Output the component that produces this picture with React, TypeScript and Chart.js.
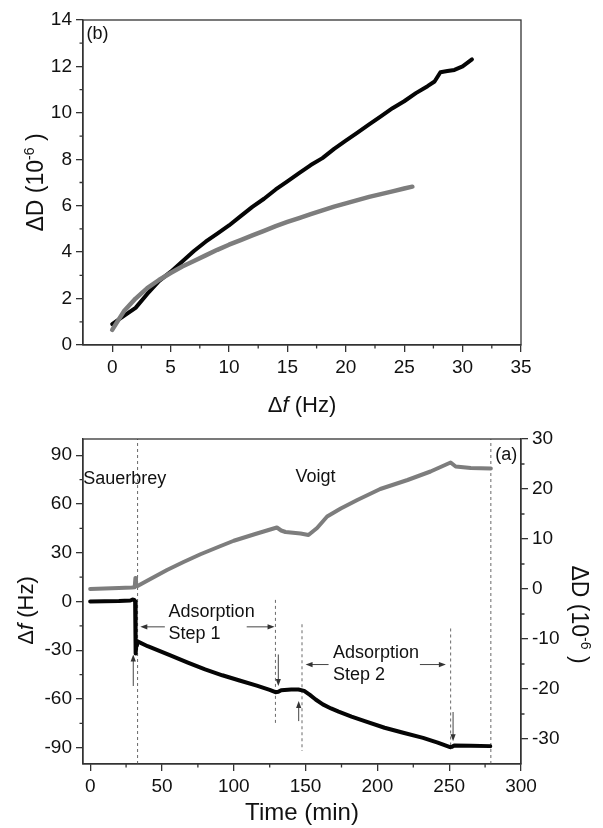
import React, { useEffect, useRef } from "react";
import { Chart, registerables } from "chart.js";

Chart.register(...registerables);

const FONT = '"Liberation Sans", Arial, Helvetica, sans-serif';
const INK = "#111111";
const AXIS = "#333333";
const GRAY = "#7d7d7d";
const BLACK = "#050505";

// ---------------- panel (b): ΔD vs Δf ----------------
const bXTicks = [0, 5, 10, 15, 20, 25, 30, 35];
const bYTicks = [0, 2, 4, 6, 8, 10, 12, 14];

const bBlackDf = [0, 1, 2, 3, 4, 5, 6, 7, 8, 9, 10, 11, 12, 13, 14, 15, 16, 17, 18, 19, 20, 21, 22, 23, 24, 25, 26, 27, 27.6, 28.1, 28.7, 29.3, 30, 30.8];
const bBlackDD = [0.9, 1.25, 1.6, 2.2, 2.75, 3.15, 3.6, 4.05, 4.45, 4.8, 5.15, 5.55, 5.95, 6.3, 6.7, 7.05, 7.4, 7.75, 8.05, 8.45, 8.8, 9.15, 9.5, 9.85, 10.2, 10.5, 10.85, 11.15, 11.35, 11.75, 11.8, 11.85, 12.0, 12.3];

const bGrayDf = [0, 0.5, 1, 2, 3, 4, 5, 6, 7, 8, 9, 10, 11, 12, 13, 14, 15, 16, 17, 18, 19, 20, 21, 22, 23, 24, 25, 25.7];
const bGrayDD = [0.65, 1.05, 1.45, 2.0, 2.45, 2.8, 3.1, 3.38, 3.62, 3.86, 4.1, 4.32, 4.52, 4.72, 4.92, 5.12, 5.3, 5.47, 5.64, 5.8, 5.96, 6.1, 6.24, 6.38, 6.5, 6.62, 6.74, 6.82];

const bPanelLabel = "(b)";
const bPanelLabelF = -2.2;
const bPanelLabelD = 13.17;

// ---------------- panel (a): Δf and ΔD vs time ----------------
const aXTicks = [0, 50, 100, 150, 200, 250, 300];
const aLeftTicks = [-90, -60, -30, 0, 30, 60, 90];
const aRightTicks = [-30, -20, -10, 0, 10, 20, 30];

const aFreqTime = [0, 10, 20, 28, 29.5, 30.8, 31.3, 31.5, 31.8, 32.1, 32.6, 40, 55, 68, 80, 92, 104, 116, 125, 129, 131, 133, 140, 145, 149, 153, 157, 162, 167.7, 173, 182, 191.7, 205, 218, 231.8, 242, 250.6, 252, 253.5, 265, 278.6];
const aFreqVal = [0, 0.2, 0.3, 0.6, 1.2, 1.0, 0, -31.5, -32, -27, -24.4, -27.5, -32.8, -37.6, -41.8, -45.4, -48.6, -51.8, -54.4, -55.8, -55.6, -54.6, -54.2, -54.2, -55, -57.5, -60.3, -63.3, -65.8, -67.8, -70.8, -73.8, -77.7, -80.8, -83.9, -86.8, -89.6, -89.4, -88.6, -88.8, -89];

const aDissTime = [0, 10, 20, 29, 31, 31.5, 31.9, 33, 40, 53.5, 65, 76.8, 90, 100, 115, 130, 133, 136, 146.5, 152, 158, 165, 174.5, 186, 202, 221, 237, 251, 254.5, 265, 279];
const aDissVal = [0, 0.1, 0.2, 0.3, 0.35, 2.2, 0.6, 0.6, 1.7, 3.8, 5.4, 6.95, 8.5, 9.65, 11.0, 12.3, 11.7, 11.4, 11.1, 10.8, 12.2, 14.5, 16.1, 17.8, 20.0, 21.8, 23.5, 25.3, 24.5, 24.2, 24.1];

// dashed vertical markers (time, Δf from, Δf to)
const aMarkerTime = [33, 129, 147.5, 251, 279];
const aMarkerFrom = [-100, 1, -14, -16.6, -100];
const aMarkerTo = [100, -76, -92, -91, 100];

// horizontal arrows (tail time -> head time at Δf level)
const aHArrowTail = [52, 109, 166, 229.6];
const aHArrowHead = [34.9, 128.4, 150, 247.7];
const aHArrowLevel = [-15.6, -15.6, -38.8, -38.8];

// vertical arrows (time, Δf tail -> Δf head)
const aVArrowTime = [30, 131, 145.2, 252.7];
const aVArrowTail = [-52, -32.6, -73.6, -68];
const aVArrowHead = [-32.6, -52, -61.3, -86];

// text annotations (left-aligned, baseline, in time / Δf units)
const aLabelText = ["Sauerbrey", "Voigt", "Adsorption", "Step 1", "Adsorption", "Step 2", "(a)"];
const aLabelTime = [-4.8, 143, 54.6, 54.6, 169.1, 169.1, 282];
const aLabelLevel = [72.6, 73.4, -9.4, -23, -34.7, -48.6, 87];

// ---------------- helpers ----------------
type Part = { text: string; size: number; italic?: boolean; dy?: number };

function partFont(p: Part) {
  return `${p.italic ? "italic " : ""}${p.size}px ${FONT}`;
}

function drawParts(ctx: CanvasRenderingContext2D, parts: Part[], cx: number, cy: number, rot: number, mainSize: number) {
  ctx.save();
  ctx.translate(cx, cy);
  ctx.rotate(rot);
  ctx.textAlign = "left";
  ctx.textBaseline = "alphabetic";
  ctx.fillStyle = INK;
  let total = 0;
  const widths = parts.map((p) => {
    ctx.font = partFont(p);
    const w = ctx.measureText(p.text).width;
    total += w;
    return w;
  });
  let x = -total / 2;
  const base = mainSize * 0.36;
  parts.forEach((p, i) => {
    ctx.font = partFont(p);
    ctx.fillText(p.text, x, base + (p.dy || 0));
    x += widths[i];
  });
  ctx.restore();
}

function minorValues(major: number[], min: number, max: number) {
  const step = major[1] - major[0];
  const vals = [major[0] - step / 2, ...major.map((v) => v + step / 2)];
  return vals.filter((v) => v > min + 1e-9 && v < max - 1e-9);
}

function arrow(ctx: CanvasRenderingContext2D, x0: number, y0: number, x1: number, y1: number) {
  const ang = Math.atan2(y1 - y0, x1 - x0);
  const L = 7;
  const W = 2.6;
  const c = Math.cos(ang);
  const s = Math.sin(ang);
  ctx.beginPath();
  ctx.moveTo(x0, y0);
  ctx.lineTo(x1 - L * 0.7 * c, y1 - L * 0.7 * s);
  ctx.stroke();
  ctx.beginPath();
  ctx.moveTo(x1, y1);
  ctx.lineTo(x1 - L * c + W * s, y1 - L * s - W * c);
  ctx.lineTo(x1 - L * c - W * s, y1 - L * s + W * c);
  ctx.closePath();
  ctx.fill();
}

function axisOptions(tickValues: number[], min: number, max: number, position: string, fit: (s: any) => void) {
  return {
    type: "linear",
    position,
    min,
    max,
    afterBuildTicks: (scale: any) => {
      scale.ticks = tickValues.map((v) => ({ value: v }));
    },
    afterFit: fit,
    ticks: {
      font: { family: FONT, size: 19 },
      color: INK,
      padding: 4,
      maxRotation: 0,
      minRotation: 0,
      autoSkip: false,
      callback: (v: any) => String(v),
    },
    grid: {
      display: true,
      drawOnChartArea: false,
      drawTicks: true,
      tickLength: 7,
      color: AXIS,
      lineWidth: 1.3,
    },
    border: { display: true, color: AXIS, width: 1.3 },
    title: { display: false },
  };
}

const DELTA_D_TITLE = (size: number): Part[] => [
  { text: "\u0394D (10", size },
  { text: "-6", size: Math.round(size * 0.62), dy: -size * 0.4 },
  { text: " )", size },
];

const DELTA_F_TITLE = (size: number): Part[] => [
  { text: "\u0394", size },
  { text: "f", size, italic: true },
  { text: " (Hz)", size },
];

// ---------------- plugins ----------------
const topDecor = {
  id: "topDecor",
  afterDraw(chart: any) {
    const { ctx, chartArea: a, scales } = chart;
    const xs = scales.x;
    const ys = scales.y;
    ctx.save();
    ctx.strokeStyle = AXIS;
    ctx.lineWidth = 1.3;
    ctx.strokeRect(a.left, a.top, a.right - a.left, a.bottom - a.top);
    ctx.beginPath();
    minorValues(bXTicks, xs.min, xs.max).forEach((v) => {
      const p = xs.getPixelForValue(v);
      ctx.moveTo(p, a.bottom);
      ctx.lineTo(p, a.bottom + 3.5);
    });
    minorValues(bYTicks, ys.min, ys.max).forEach((v) => {
      const p = ys.getPixelForValue(v);
      ctx.moveTo(a.left - 3.5, p);
      ctx.lineTo(a.left, p);
    });
    ctx.stroke();

    ctx.fillStyle = INK;
    ctx.font = `18px ${FONT}`;
    ctx.textAlign = "left";
    ctx.textBaseline = "alphabetic";
    ctx.fillText(bPanelLabel, xs.getPixelForValue(bPanelLabelF), ys.getPixelForValue(bPanelLabelD));

    drawParts(ctx, DELTA_D_TITLE(23), a.left - 48, (a.top + a.bottom) / 2, -Math.PI / 2, 23);
    drawParts(ctx, DELTA_F_TITLE(22), (a.left + a.right) / 2, a.bottom + 59, 0, 22);
    ctx.restore();
  },
};

const bottomDecor = {
  id: "bottomDecor",
  afterDraw(chart: any) {
    const { ctx, chartArea: a, scales } = chart;
    const xs = scales.x;
    const ys = scales.y;
    const ys1 = scales.y1;
    ctx.save();
    ctx.strokeStyle = AXIS;
    ctx.lineWidth = 1.3;
    ctx.strokeRect(a.left, a.top, a.right - a.left, a.bottom - a.top);
    ctx.beginPath();
    minorValues(aXTicks, xs.min, xs.max).forEach((v) => {
      const p = xs.getPixelForValue(v);
      ctx.moveTo(p, a.bottom);
      ctx.lineTo(p, a.bottom + 3.5);
    });
    minorValues(aLeftTicks, ys.min, ys.max).forEach((v) => {
      const p = ys.getPixelForValue(v);
      ctx.moveTo(a.left - 3.5, p);
      ctx.lineTo(a.left, p);
    });
    minorValues(aRightTicks, ys1.min, ys1.max).forEach((v) => {
      const p = ys1.getPixelForValue(v);
      ctx.moveTo(a.right, p);
      ctx.lineTo(a.right + 3.5, p);
    });
    ctx.stroke();

    // arrows
    ctx.strokeStyle = "#444444";
    ctx.fillStyle = "#333333";
    ctx.lineWidth = 1;
    aHArrowTail.forEach((t, i) => {
      const y = ys.getPixelForValue(aHArrowLevel[i]);
      arrow(ctx, xs.getPixelForValue(t), y, xs.getPixelForValue(aHArrowHead[i]), y);
    });
    aVArrowTime.forEach((t, i) => {
      const x = xs.getPixelForValue(t);
      arrow(ctx, x, ys.getPixelForValue(aVArrowTail[i]), x, ys.getPixelForValue(aVArrowHead[i]));
    });

    // labels
    ctx.fillStyle = INK;
    ctx.font = `18px ${FONT}`;
    ctx.textAlign = "left";
    ctx.textBaseline = "alphabetic";
    aLabelText.forEach((txt, i) => {
      ctx.fillText(txt, xs.getPixelForValue(aLabelTime[i]), ys.getPixelForValue(aLabelLevel[i]));
    });

    const midY = (a.top + a.bottom) / 2;
    drawParts(ctx, DELTA_F_TITLE(22), a.left - 58, midY + 9, -Math.PI / 2, 22);
    drawParts(ctx, DELTA_D_TITLE(23), a.right + 59, midY + 13, Math.PI / 2, 23);
    drawParts(ctx, [{ text: "Time (min)", size: 24 }], (a.left + a.right) / 2, a.bottom + 47, 0, 24);
    ctx.restore();
  },
};

function pts(xs: number[], ys: number[]) {
  return xs.map((x, i) => ({ x, y: ys[i] }));
}

export default function App() {
  const topRef = useRef<HTMLCanvasElement>(null);
  const botRef = useRef<HTMLCanvasElement>(null);

  useEffect(() => {
    const top = new Chart(topRef.current as HTMLCanvasElement, {
      type: "scatter",
      data: {
        datasets: [
          {
            label: "gray",
            data: pts(bGrayDf, bGrayDD),
            showLine: true,
            borderColor: GRAY,
            backgroundColor: GRAY,
            borderWidth: 4.5,
            pointRadius: 0,
            borderCapStyle: "round",
            borderJoinStyle: "round",
          },
          {
            label: "black",
            data: pts(bBlackDf, bBlackDD),
            showLine: true,
            borderColor: BLACK,
            backgroundColor: BLACK,
            borderWidth: 4,
            pointRadius: 0,
            borderCapStyle: "round",
            borderJoinStyle: "round",
          },
        ],
      } as any,
      options: {
        animation: false,
        responsive: false,
        devicePixelRatio: 1,
        layout: { padding: { left: 0, right: 82, top: 20, bottom: 0 } },
        plugins: { legend: { display: false }, tooltip: { enabled: false } },
        scales: {
          x: axisOptions(bXTicks, -2.5, 35, "bottom", (s: any) => {
            s.height = 75;
          }),
          y: axisOptions(bYTicks, 0, 14, "left", (s: any) => {
            s.width = 83;
          }),
        },
      } as any,
      plugins: [topDecor],
    });

    const markerSets = aMarkerTime.map((t, i) => ({
      label: "marker" + i,
      data: [
        { x: t, y: aMarkerFrom[i] },
        { x: t, y: aMarkerTo[i] },
      ],
      yAxisID: "y",
      showLine: true,
      borderColor: "#6a6a6a",
      borderWidth: 1,
      borderDash: [3, 3],
      pointRadius: 0,
    }));

    const bottom = new Chart(botRef.current as HTMLCanvasElement, {
      type: "scatter",
      data: {
        datasets: [
          {
            label: "\u0394f",
            data: pts(aFreqTime, aFreqVal),
            yAxisID: "y",
            showLine: true,
            borderColor: BLACK,
            backgroundColor: BLACK,
            borderWidth: 4,
            pointRadius: 0,
            borderCapStyle: "round",
            borderJoinStyle: "round",
          },
          {
            label: "\u0394D",
            data: pts(aDissTime, aDissVal),
            yAxisID: "y1",
            showLine: true,
            borderColor: GRAY,
            backgroundColor: GRAY,
            borderWidth: 4,
            pointRadius: 0,
            borderCapStyle: "round",
            borderJoinStyle: "round",
          },
          ...markerSets,
        ],
      } as any,
      options: {
        animation: false,
        responsive: false,
        devicePixelRatio: 1,
        layout: { padding: { left: 0, right: 0, top: 19, bottom: 0 } },
        plugins: { legend: { display: false }, tooltip: { enabled: false } },
        scales: {
          x: axisOptions(aXTicks, -5, 300, "bottom", (s: any) => {
            s.height = 64;
          }),
          y: axisOptions(aLeftTicks, -100, 100, "left", (s: any) => {
            s.width = 83;
          }),
          y1: axisOptions(aRightTicks, -35, 30, "right", (s: any) => {
            s.width = 82;
          }),
        },
      } as any,
      plugins: [bottomDecor],
    });

    return () => {
      top.destroy();
      bottom.destroy();
    };
  }, []);

  return (
    <div style={{ position: "absolute", left: 0, top: 0, width: 603, height: 828, background: "#ffffff" }}>
      <canvas
        ref={topRef}
        width={603}
        height={420}
        style={{ position: "absolute", left: 0, top: 0, width: 603, height: 420, display: "block" }}
      />
      <canvas
        ref={botRef}
        width={603}
        height={408}
        style={{ position: "absolute", left: 0, top: 420, width: 603, height: 408, display: "block" }}
      />
    </div>
  );
}
